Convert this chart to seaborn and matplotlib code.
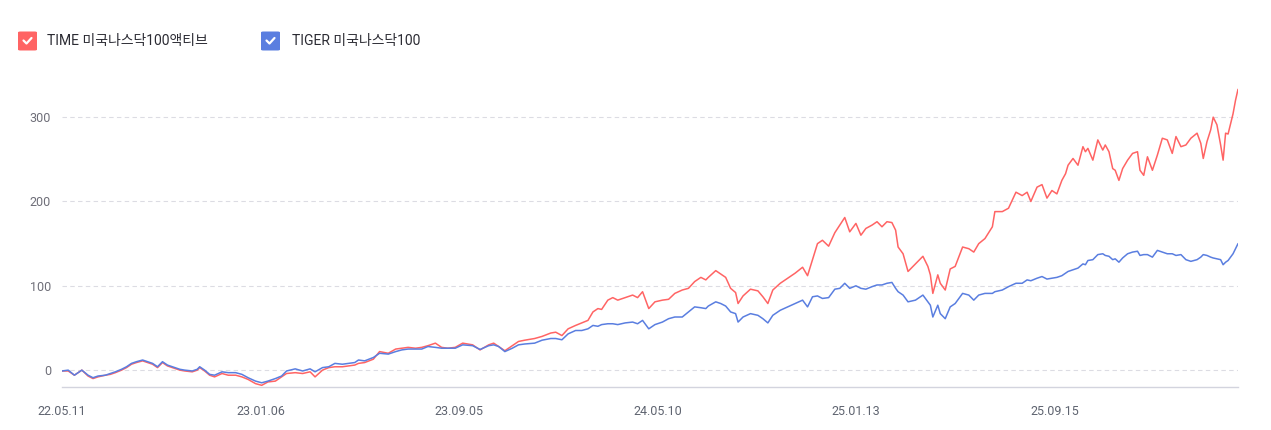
import pandas as pd
import matplotlib.pyplot as plt
import seaborn as sns
from matplotlib.patches import FancyBboxPatch
from matplotlib.lines import Line2D

# trading-day index (160 trading days between labelled ticks)
days = [0, 5, 10, 16, 21, 25, 29, 35, 39, 43, 48, 52, 56, 60, 65, 69, 73, 77, 81, 85,
        91, 95, 99, 105, 109, 111, 115, 119, 123, 129, 134, 140, 145, 150, 156, 161,
        166, 172, 177, 181, 188, 194, 200, 204, 210, 215, 220, 226, 231, 236, 239, 244,
        251, 256, 263, 269, 274, 279, 285, 290, 295, 301, 306, 311, 317, 323, 331, 337,
        344, 348, 352, 357, 363, 368, 373, 381, 387, 394, 398, 403, 408, 414, 419, 424,
        428, 432, 435, 440, 444, 448, 454, 460, 464, 468, 473, 478, 484, 489, 494, 500,
        505, 510, 515, 519, 521, 527, 531, 535, 539, 543, 545, 549, 555, 561, 565, 569,
        573, 579, 585, 591, 597, 601, 605, 609, 613, 618, 623, 627, 631, 635, 640, 644,
        648, 653, 657, 661, 665, 669, 672, 674, 678, 682, 688, 694, 698, 700, 702, 706,
        708, 712, 716, 720, 726, 731, 735, 739, 744, 750, 752, 758, 763, 769, 774, 778,
        781, 786, 790, 794, 798, 802, 806, 809, 811, 815, 819, 823, 825, 827, 831, 835,
        839, 841, 844, 847, 849, 852, 855, 859, 863, 867, 869, 872, 875, 879, 883, 887,
        891, 895, 898, 902, 906, 910, 915, 918, 920, 923, 926, 928, 931, 934, 936, 938,
        940, 944, 946, 948]

time_active = [-1, -1, -6, 0, -7, -10, -8, -6, -5, -3, 0, 3, 7, 9, 11, 9, 7, 3, 9, 5,
               2, 0, -1, -2, 0, 3, -1, -6, -8, -4, -6, -6, -8, -11, -16, -18,
               -14, -13, -8, -4, -3, -4, -2, -8, 0, 3, 4, 4, 5, 6, 8, 9,
               13, 22, 20, 25, 26, 27, 26, 27, 29, 32, 27, 26, 27, 32, 30, 24,
               30, 32, 28, 23, 29, 34, 35.5, 37.5, 40, 44, 45, 41, 49, 53, 56, 59,
               69, 73, 72, 83, 86, 83, 86, 89, 86, 93, 73, 81, 83, 84, 91, 95,
               97, 105, 110, 107, 110, 118, 114, 110, 97, 92, 79, 88, 96, 94, 87, 79,
               95, 103, 109, 115, 122, 112, 131, 150, 154, 147, 163, 172, 181, 164, 174, 160,
               168, 172, 176, 170, 176, 175, 166, 146, 138, 117, 126, 135, 123, 113, 91, 113,
               103, 95, 120, 123, 146, 144, 140, 150, 156, 170, 188, 188, 192, 211, 207, 211,
               200, 217, 220, 204, 213, 209, 225, 233, 243, 251, 243, 265, 259, 263, 249, 273,
               261, 267, 259, 239, 237, 225, 239, 249, 257, 259, 237, 231, 253, 237, 255, 275,
               273, 257, 277, 265, 267, 275, 281, 269, 251, 271, 285, 300, 291, 267, 249, 281,
               280, 304, 320, 333]

tiger_nasdaq = [-1, 0, -6, 0, -6, -9, -7, -6, -4, -2, 1, 4, 8, 10, 12, 10, 8, 4, 10, 6,
                3, 1, 0, -1, 1, 4, 0, -5, -6, -2, -3, -3, -5, -9, -13, -15,
                -13, -10, -7, -1, 1.5, -1, 1.5, -2, 3, 4, 8, 7, 8, 9, 12, 11,
                15, 20, 19, 22, 24, 25, 25, 25, 28, 27, 26, 26, 26, 30, 29, 24.5,
                29, 30, 28, 22, 26, 30, 31, 32, 35.5, 37.5, 37.5, 36, 43, 47, 47, 49,
                53, 52, 54, 55, 55, 54, 56, 57, 55, 59, 49, 54, 57, 61, 63, 63,
                69, 75, 74, 73, 76, 81, 79, 76, 69, 67, 57, 63, 67, 65, 61, 56,
                65, 71, 75, 79, 83, 75, 87, 88, 85, 86, 96, 97, 103, 97, 100, 97,
                96, 99, 101, 101, 103, 104, 97, 93, 89, 81, 83, 89, 81, 77, 63, 77,
                67, 61, 75, 79, 91, 89, 83, 89, 91, 91, 93, 95, 99, 103, 103, 107,
                106, 109, 111, 108, 109, 110, 112, 115, 117, 119, 121, 126, 125, 130, 131, 137,
                138, 136, 135, 131, 132, 128, 133, 138, 140, 141, 136, 137, 137, 134, 142, 140,
                138, 138, 136, 137, 131, 129, 131, 134, 137, 136, 134, 133, 132, 131, 125, 128,
                130, 138, 144, 150]

series_names = ["TIME 미국나스닥100액티브", "TIGER 미국나스닥100"]
series_colors = ["#ff6464", "#5a7ee0"]

tick_days = [0, 160, 320, 480, 640, 800]
tick_labels = ["22.05.11", "23.01.06", "23.09.05", "24.05.10", "25.01.13", "25.09.15"]
y_ticks = [0, 100, 200, 300]

W, H = 1271, 430


def add_checkbox(fig, x0, y_center, color):
    # rounded square with a white tick, positioned in pixels
    size = 19
    box = FancyBboxPatch((x0 / W, (H - y_center - size / 2) / H), size / W, size / H,
                         boxstyle="round,pad=0,rounding_size=0.002",
                         transform=fig.transFigure, facecolor=color, edgecolor="none")
    fig.patches.append(box)
    xs = [x0 + 5.5, x0 + 8.5, x0 + 13.5]
    ys = [y_center - 0.5, y_center + 2.5, y_center - 3]
    tick = Line2D([x / W for x in xs], [(H - y) / H for y in ys],
                  transform=fig.transFigure, color="white", linewidth=1.6,
                  solid_capstyle="round", solid_joinstyle="round")
    fig.lines.append(tick)


def main():
    df = pd.concat([
        pd.DataFrame({"day": days, "value": time_active, "name": series_names[0]}),
        pd.DataFrame({"day": days, "value": tiger_nasdaq, "name": series_names[1]}),
    ])

    sns.set_theme(style="white")
    plt.rcParams["font.family"] = ["Roboto", "Noto Sans CJK KR", "DejaVu Sans"]

    fig = plt.figure(figsize=(W / 100, H / 100), dpi=100)
    ax = fig.add_axes([62 / W, 0.1, (1238 - 62) / W, 0.706])

    sns.lineplot(data=df, x="day", y="value", hue="name", hue_order=series_names,
                 palette=series_colors, linewidth=1.1, legend=False, ax=ax)

    ax.set_xlim(0, 948)
    ax.set_ylim(-20, 340)
    ax.set_xticks(tick_days)
    ax.set_xticklabels(tick_labels)
    ax.set_yticks(y_ticks)
    ax.set_xlabel("")
    ax.set_ylabel("")

    ax.yaxis.grid(True, linestyle=(0, (4, 3)), color="#dcdce3", linewidth=0.8)
    ax.set_axisbelow(True)
    for side in ["top", "right", "left"]:
        ax.spines[side].set_visible(False)
    ax.spines["bottom"].set_color("#d3d4de")
    ax.spines["bottom"].set_linewidth(1.0)

    ax.tick_params(axis="x", length=6, width=1, color="#d3d4de", pad=7,
                   labelsize=9, labelcolor="#5f6470")
    ax.tick_params(axis="y", length=0, pad=8, labelsize=9, labelcolor="#6e6e78")

    # checkbox-style legend above the plot
    for x0, tx, name, color in zip([18, 261], [47, 292], series_names, series_colors):
        add_checkbox(fig, x0, 41, color)
        fig.text(tx / W, 1 - 41 / H, name, color="#2b2b33", fontsize=10,
                 ha="left", va="center")

    fig.savefig("out.png", dpi=100)
    plt.close(fig)


if __name__ == "__main__":
    main()
